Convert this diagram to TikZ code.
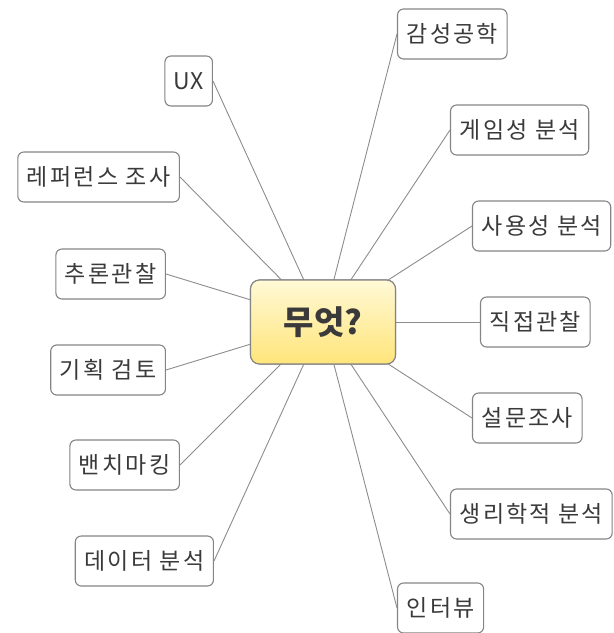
\documentclass[tikz,border=0pt]{standalone}
\usepackage{fontspec}
\setmainfont[LetterSpace=10]{Noto Sans CJK KR}
\newfontfamily\plainfont{Noto Sans CJK KR}
\usepackage{tikz}
\usetikzlibrary{positioning}
\definecolor{ideatop}{HTML}{FFF9D6}
\definecolor{ideabottom}{HTML}{FFE57A}
\definecolor{boxline}{HTML}{858585}
\definecolor{linkline}{HTML}{8C8C8C}
\definecolor{labeltext}{HTML}{3A3A3A}
\tikzset{
    idea/.style={
           rectangle,
           rounded corners=9pt,
           draw=boxline, line width=1.1pt,
           top color=ideatop, bottom color=ideabottom,
           minimum width=145pt,
           minimum height=84pt,
           text=labeltext,
           font=\fontsize{33}{38}\selectfont\plainfont\bfseries,
           text centered,
           },
    branch/.style={
           rectangle,
           rounded corners=6pt,
           draw=boxline, line width=1.1pt,
           fill=white,
           minimum height=50pt,
           inner xsep=9pt,
           text=labeltext,
           font=\fontsize{23}{27}\selectfont,
           text centered,
           },
}
\begin{document}
\begin{tikzpicture}
[
x=1pt, y=1pt,
linkline/.style={draw=linkline, line width=0.9pt}
]
 \useasboundingbox (-323,-311) rectangle (291,322);

 % CENTRAL IDEA
 \node[idea] (WHAT) at (0,0)
 {%
무엇?
 };

 % LEFT BRANCHES (anchored at their right side)
 \node[branch, anchor=east,
 font=\fontsize{23}{27}\selectfont\plainfont] (UX) at (-110,241)
 {%
UX
 };

 \node[branch, anchor=east] (REFERENCE) at (-143,145)
 {%
레퍼런스 조사
 };

 \node[branch, anchor=east] (INFERENCE) at (-157,48)
 {%
추론관찰
 };

 \node[branch, anchor=east] (PLANREVIEW) at (-157,-48)
 {%
기획 검토
 };

 \node[branch, anchor=east] (BENCHMARK) at (-143,-143)
 {%
밴치마킹
 };

 \node[branch, anchor=east] (DATA) at (-109,-239)
 {%
데이터 분석
 };

 % RIGHT BRANCHES (anchored at their left side)
 \node[branch, anchor=west] (EMOTION) at (74,288)
 {%
감성공학
 };

 \node[branch, anchor=west] (GAMEPLAY) at (127,192)
 {%
게임성 분석
 };

 \node[branch, anchor=west] (USABILITY) at (149,96)
 {%
사용성 분석
 };

 \node[branch, anchor=west] (DIRECTOBS) at (157,0)
 {%
직접관찰
 };

 \node[branch, anchor=west] (SURVEY) at (149,-96)
 {%
설문조사
 };

 \node[branch, anchor=west] (PHYSIO) at (127,-192)
 {%
생리학적 분석
 };

 \node[branch, anchor=west] (INTERVIEW) at (74,-286)
 {%
인터뷰
 };

 % links from the centre to every branch
 \path[linkline]
  (WHAT.center) edge (UX.east)
  (WHAT.center) edge (REFERENCE.east)
  (WHAT.center) edge (INFERENCE.east)
  (WHAT.center) edge (PLANREVIEW.east)
  (WHAT.center) edge (BENCHMARK.east)
  (WHAT.center) edge (DATA.east)
  (WHAT.center) edge (EMOTION.west)
  (WHAT.center) edge (GAMEPLAY.west)
  (WHAT.center) edge (USABILITY.west)
  (WHAT.center) edge (DIRECTOBS.west)
  (WHAT.center) edge (SURVEY.west)
  (WHAT.center) edge (PHYSIO.west)
  (WHAT.center) edge (INTERVIEW.west)
 ;
 % redraw the centre on top of the links
 \node[idea] at (WHAT) {무엇?};
\end{tikzpicture}
\end{document}
